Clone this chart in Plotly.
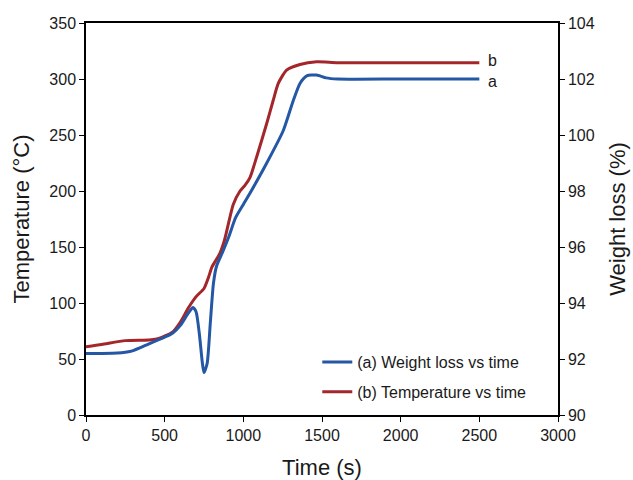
import plotly.graph_objects as go

# Series (b) Temperature vs time (left axis, °C)
t_temp = [0, 100, 250, 400, 450, 500, 550, 600, 650, 700, 750, 780, 800, 850, 880, 936, 979, 1010, 1042, 1085, 1148, 1190, 1222, 1275, 1360, 1466, 1600, 2000, 2500]
temp = [61, 63, 66.4, 67, 68, 70.5, 74, 83, 95.5, 105.7, 113, 123.5, 132, 144, 156, 188, 200, 205, 212, 230.6, 260, 281, 296, 308, 313, 315.4, 314.6, 314.6, 314.6]

# Series (a) Weight loss vs time (right axis, %)
t_wt = [0, 100, 200, 250, 300, 400, 500, 550, 600, 650, 680, 700, 720, 740, 750, 770, 790, 810, 830, 870, 910, 950, 1000, 1042, 1148, 1254, 1318, 1360, 1403, 1466, 1526, 1600, 2000, 2500]
weight = [92.20, 92.20, 92.21, 92.24, 92.30, 92.54, 92.78, 92.92, 93.20, 93.64, 93.84, 93.68, 92.92, 91.84, 91.52, 91.84, 93.28, 94.70, 95.32, 95.84, 96.40, 97.04, 97.52, 97.92, 98.99, 100.16, 101.24, 101.84, 102.11, 102.14, 102.04, 102.0, 102.0, 102.0]

x_ticks = [0, 500, 1000, 1500, 2000, 2500, 3000]
y1_ticks = [0, 50, 100, 150, 200, 250, 300, 350]
y2_ticks = [90, 92, 94, 96, 98, 100, 102, 104]

BLUE = "#2457A4"
RED = "#A3262B"
FONT = "Liberation Sans, Arial, sans-serif"
TXT = "#1a1a1a"

fig = go.Figure()
fig.add_trace(go.Scatter(x=t_wt, y=weight, mode="lines", name="(a) Weight loss vs time",
                         legendgroup="a",
                         line=dict(color=BLUE, width=3, shape="spline", smoothing=0.6), yaxis="y2"))
fig.add_trace(go.Scatter(x=t_temp, y=temp, mode="lines", name="(b) Temperature vs time",
                         legendgroup="b",
                         line=dict(color=RED, width=3, shape="spline", smoothing=0.6), yaxis="y"))

axis_common = dict(showgrid=False, zeroline=False, showline=True, linecolor="black", linewidth=1.5,
                   ticks="outside", ticklen=5, tickcolor="black", automargin=False,
                   tickfont=dict(family=FONT, size=16, color=TXT))

fig.update_layout(
    width=633, height=480,
    margin=dict(l=86, r=75, t=23, b=65),
    paper_bgcolor="white", plot_bgcolor="white",
    font=dict(family=FONT, color=TXT),
    showlegend=True,
    legend=dict(x=0.49, y=0.015, xanchor="left", yanchor="bottom", bgcolor="rgba(0,0,0,0)",
                font=dict(family=FONT, size=16, color=TXT), tracegroupgap=6, itemwidth=30),
    xaxis=dict(range=[0, 3000], tickvals=x_ticks, mirror=True,
               title=dict(text="Time (s)", font=dict(family=FONT, size=22, color=TXT), standoff=18),
               **axis_common),
    yaxis=dict(range=[0, 350], tickvals=y1_ticks,
               title=dict(text="Temperature (°C)", font=dict(family=FONT, size=22, color=TXT), standoff=14),
               **axis_common),
    yaxis2=dict(range=[90, 104], tickvals=y2_ticks, overlaying="y", side="right",
                title=dict(text="Weight loss (%)", font=dict(family=FONT, size=22, color=TXT), standoff=16),
                **axis_common),
)

fig.add_annotation(x=2540, y=314.6, xref="x", yref="y", text="b", showarrow=False, xanchor="left",
                   yshift=2, font=dict(family=FONT, size=16, color=TXT))
fig.add_annotation(x=2540, y=102.0, xref="x", yref="y2", text="a", showarrow=False, xanchor="left",
                   yshift=-2, font=dict(family=FONT, size=16, color=TXT))

fig.write_html("out.html")
